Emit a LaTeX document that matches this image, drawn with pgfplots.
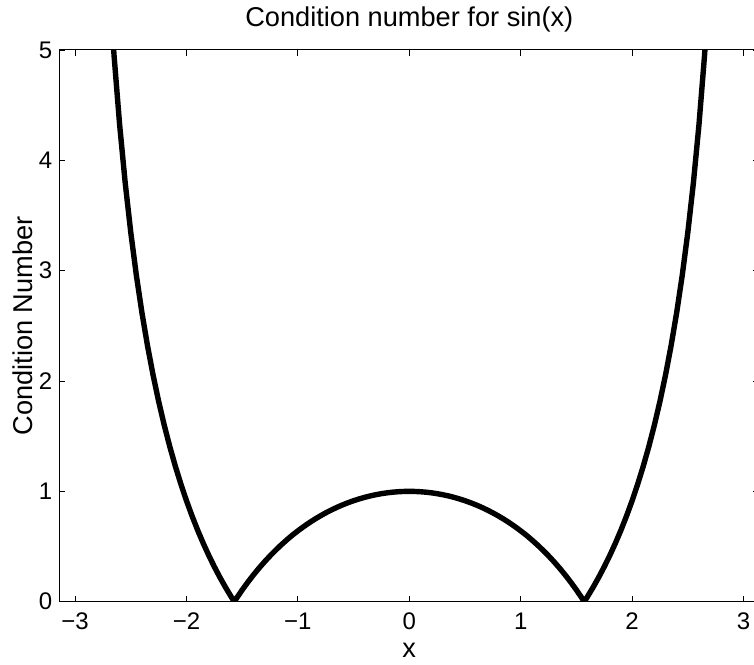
\documentclass[border=0pt]{standalone}
\usepackage{fontspec}
\setmainfont{Liberation Sans}
\usepackage{pgfplots}
\pgfplotsset{compat=1.18}
\pgfplotstableread{
x y
-2.70 5.71153
-2.65 4.94924
-2.60 4.32184
-2.55 3.79543
-2.50 3.34662
-2.45 2.95891
-2.40 2.62005
-2.35 2.32107
-2.30 2.05502
-2.25 1.81653
-2.20 1.60137
-2.15 1.40616
-2.10 1.22818
-2.05 1.06518
-2.00 0.91532
-1.95 0.77706
-1.90 0.64911
-1.85 0.53038
-1.80 0.41995
-1.75 0.31701
-1.70 0.22087
-1.65 0.13096
-1.60 0.04674
-1.5708 0.0
-1.55 0.03224
-1.50 0.10637
-1.45 0.17601
-1.40 0.24147
-1.35 0.30302
-1.30 0.36090
-1.25 0.41534
-1.20 0.46654
-1.15 0.51464
-1.10 0.55987
-1.05 0.60278
-1.00 0.64209
-0.95 0.67936
-0.90 0.71420
-0.85 0.74670
-0.80 0.77698
-0.75 0.80507
-0.70 0.83107
-0.65 0.85503
-0.60 0.87702
-0.55 0.89707
-0.50 0.91524
-0.45 0.93157
-0.40 0.94609
-0.35 0.95883
-0.30 0.96982
-0.25 0.97907
-0.20 0.98663
-0.15 0.99249
-0.10 0.99666
-0.05 0.99917
0.00 1.00000
0.05 0.99917
0.10 0.99666
0.15 0.99249
0.20 0.98663
0.25 0.97907
0.30 0.96982
0.35 0.95883
0.40 0.94609
0.45 0.93157
0.50 0.91524
0.55 0.89707
0.60 0.87702
0.65 0.85503
0.70 0.83107
0.75 0.80507
0.80 0.77698
0.85 0.74670
0.90 0.71420
0.95 0.67936
1.00 0.64209
1.05 0.60278
1.10 0.55987
1.15 0.51464
1.20 0.46654
1.25 0.41534
1.30 0.36090
1.35 0.30302
1.40 0.24147
1.45 0.17601
1.50 0.10637
1.55 0.03224
1.5708 0.0
1.60 0.04674
1.65 0.13096
1.70 0.22087
1.75 0.31701
1.80 0.41995
1.85 0.53038
1.90 0.64911
1.95 0.77706
2.00 0.91532
2.05 1.06518
2.10 1.22818
2.15 1.40616
2.20 1.60137
2.25 1.81653
2.30 2.05502
2.35 2.32107
2.40 2.62005
2.45 2.95891
2.50 3.34662
2.55 3.79543
2.60 4.32184
2.65 4.94924
2.70 5.71153
}\condtable
\begin{document}
\begin{tikzpicture}
\useasboundingbox (-29.65pt,-31.15pt) rectangle (347.35pt,300.85pt);
\begin{axis}[
  scale only axis,
  width=350pt, height=275.85pt,
  xmin=-3.14159, xmax=3.14159,
  ymin=0, ymax=5,
  xtick={-3,-2,-1,0,1,2,3},
  xticklabels={−3,−2,−1,0,1,2,3},
  ytick={0,1,2,3,4,5},
  yticklabels={0,1,2,3,4,5},
  tick align=inside,
  major tick length=3pt,
  tick style={black, line width=0.4pt},
  axis line style={black, line width=0.5pt},
  tick label style={font=\fontsize{12}{14}\selectfont},
  xticklabel style={yshift=-2pt},
  title={Condition number for sin(x)},
  title style={font=\fontsize{13.6}{16}\selectfont, at={(axis description cs:0.5,1.0417)}, anchor=base, yshift=-6pt},
  xlabel={x},
  ylabel={Condition Number},
  xlabel style={font=\fontsize{13.6}{16}\selectfont, at={(axis description cs:0.5,-0.102)}, anchor=base},
  ylabel style={font=\fontsize{13.6}{16}\selectfont, at={(axis description cs:-0.0376,0.5)}, anchor=base},
]
\addplot[black, line width=2.7pt, line join=round] table[x=x, y=y] {\condtable};
\end{axis}
\end{tikzpicture}
\end{document}
